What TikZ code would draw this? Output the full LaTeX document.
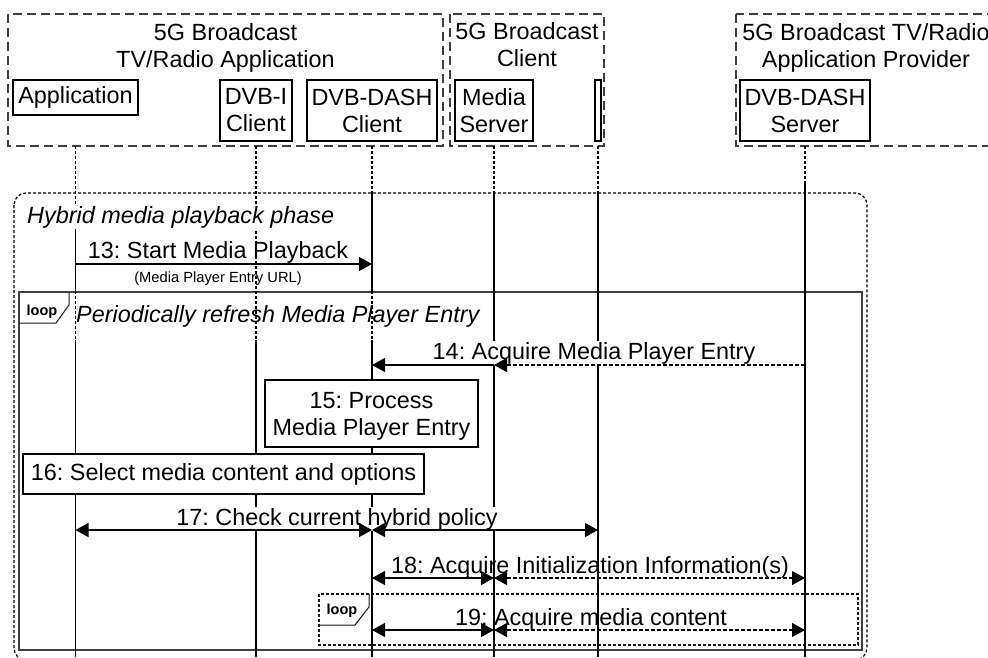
\documentclass[tikz,border=0pt]{standalone}
\usepackage{fontspec}
\setmainfont{Liberation Sans}
\usetikzlibrary{arrows.meta}
\frenchspacing

\tikzset{
  grpbox/.style={draw=black!75, line width=1.5pt, dash pattern=on 9pt off 5pt},
  partbox/.style={draw, line width=1.2pt, fill=white, align=center, inner sep=0pt},
  lifeline/.style={line width=1.1pt},
  lifedash/.style={line width=1.1pt, dash pattern=on 3pt off 2pt},
  phaseframe/.style={draw, line width=1.2pt, dash pattern=on 3pt off 2pt, rounded corners=12pt},
  loopframe/.style={draw=black!75, line width=1.3pt},
  innerloop/.style={draw=black!90, line width=1.1pt, dash pattern=on 3pt off 2pt},
  looptag/.style={draw=black!90, line width=1pt},
  msg/.style={line width=1.2pt, ->},
  dmsg/.style={msg, dash pattern=on 4pt off 2pt},
  bimsg/.style={line width=1.2pt, <->},
  dbimsg/.style={bimsg, dash pattern=on 4pt off 2pt},
  lbl/.style={anchor=base, inner sep=1pt},
  lblbg/.style={lbl, fill=white},
  sublbl/.style={anchor=base, inner sep=0pt, font=\fontsize{14.7}{17}\selectfont},
  looplbl/.style={anchor=base, inner sep=0pt, font=\fontsize{14.5}{16}\selectfont\bfseries},
  stepbox/.style={draw, line width=1.2pt, fill=white, align=center, inner sep=0pt},
}

\begin{document}
\begin{tikzpicture}[x=1pt, y=-1pt, >={Triangle[length=13pt,width=14pt]},
    font=\fontsize{23.4}{27}\selectfont]
\path[use as bounding box, clip] (0,0) rectangle (988,657);
\def\ytop{146}
\def\ybot{657}

% groups
\draw[grpbox] (8,14) rectangle (443,146);
\draw[grpbox] (450,14) rectangle (604,146);
\draw[grpbox] (736,14) rectangle (1000,146);
\node[align=center] (g1) at (225.5,47.5) {5G Broadcast\\TV/Radio Application};
\node[align=center] (g2) at (527,45.1) {5G Broadcast\\Client};
\node[align=center] (g3) at (866,47.5) {5G Broadcast TV/Radio\\Application Provider};

% participants
\node[partbox, minimum width=125pt, minimum height=35pt] (app) at (75.5,97.5) {Application};
\node[partbox, minimum width=72pt, minimum height=61pt] (dvbi) at (256,110.5) {DVB-I\\Client};
\node[partbox, minimum width=130pt, minimum height=61pt] (dashc) at (372,110.5) {DVB-DASH\\Client};
\node[partbox, minimum width=78pt, minimum height=61pt] (ms) at (494,110.5) {Media\\Server};
\node[partbox, minimum width=6pt, minimum height=61pt] (thin) at (598,110.5) {};
\node[partbox, minimum width=130pt, minimum height=61pt] (dashs) at (805,110.5) {DVB-DASH\\Server};

\coordinate (r13) at (0,264);
\coordinate (r14) at (0,365);
\coordinate (r17) at (0,530);
\coordinate (r18) at (0,578);
\coordinate (r19) at (0,630);

% frames
\draw[phaseframe] (14,193) rectangle (867,660);
\draw[loopframe] (19,292) rectangle (862,650);
\draw[looptag] (69,292) -- (69,305) -- (56,323) -- (19,323);
\draw[innerloop] (319,594) rectangle (858,645);
\draw[looptag] (369,594) -- (369,607) -- (355,625) -- (319,625);

% lifelines
\foreach \p in {app,dvbi,dashc,ms,thin,dashs}
  \draw[lifedash] (\p |- 0,\ytop) -- (\p |- 0,\ybot);
\foreach \p/\ya/\yb in {app/228/292, app/340/\ybot, dvbi/340/\ybot, dashc/193/292,
    dashc/340/\ybot, ms/193/\ybot, thin/193/\ybot, dashs/183/\ybot}
  \draw[lifeline] (\p |- 0,\ya) -- (\p |- 0,\yb);

\node[lblbg, anchor=base west] (phase) at (26,223) {\itshape Hybrid media playback phase};
\node[stepbox, minimum width=213pt, minimum height=67pt, text depth=0pt] (s15) at (371.5,413.5) {15: Process\\Media Player Entry};
\node[stepbox, minimum width=401pt, minimum height=40pt] (s16) at (223.5,474) {16: Select media content and options};
\node[lblbg] (m14) at (594,359) {14: Acquire Media Player Entry};
\node[lblbg] (m17) at (337,525) {17: Check current hybrid policy};

% messages
\draw[msg] (app |- r13) -- (dashc |- r13);
\draw[dmsg] (dashs |- r14) -- (ms |- r14);
\draw[msg] (ms |- r14) -- (dashc |- r14);
\draw[bimsg] (app |- r17) -- (dashc |- r17);
\draw[bimsg] (dashc |- r17) -- (thin |- r17);
\draw[bimsg] (dashc |- r18) -- (ms |- r18);
\draw[dbimsg] (ms |- r18) -- (dashs |- r18);
\draw[bimsg] (dashc |- r19) -- (ms |- r19);
\draw[dbimsg] (ms |- r19) -- (dashs |- r19);

\node[lbl] (m13) at (218,258) {13: Start Media Playback};
\node[sublbl] (m13s) at (218,282) {(Media Player Entry URL)};
\node[lbl] (m18) at (590,573) {18: Acquire Initialization Information(s)};
\node[lbl] (m19) at (591,625) {19: Acquire media content};
\node[lbl, anchor=base west] (loopt) at (75,322) {\itshape Periodically refresh Media Player Entry};
\node[looplbl] (lp1) at (42,315) {loop};
\node[looplbl] (lp2) at (342,614) {loop};
\end{tikzpicture}
\end{document}
